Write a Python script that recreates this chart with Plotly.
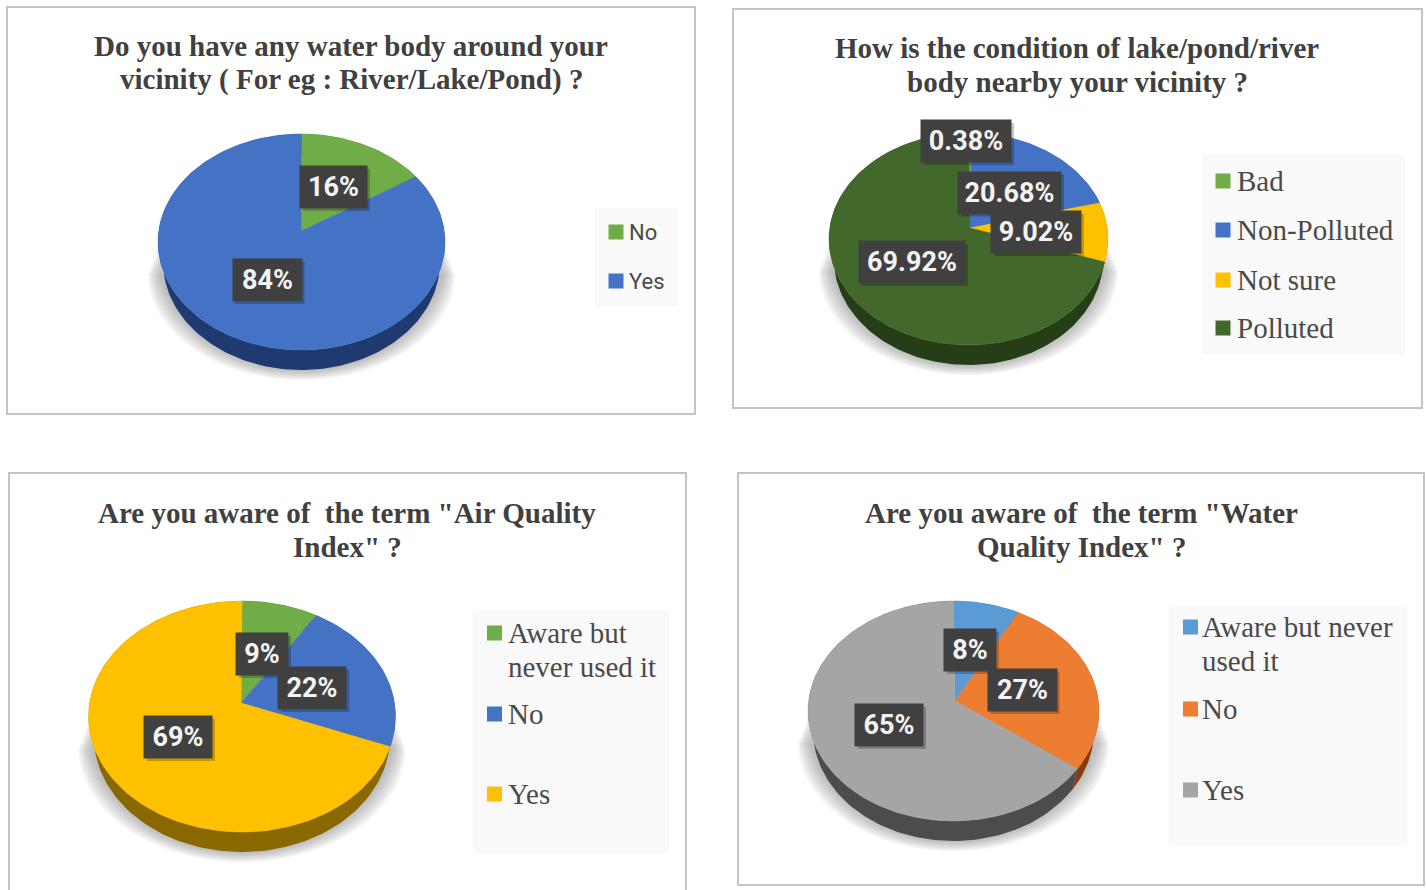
import math
import plotly.graph_objects as go

# ---- data ----
titles_1 = ["Do you have any water body around your", "vicinity ( For eg : River/Lake/Pond) ?"]
categories_1 = ["No", "Yes"]
values_1 = [16, 84]
labels_1 = ["16%", "84%"]

titles_2 = ["How is the condition of lake/pond/river", "body nearby your vicinity ?"]
categories_2 = ["Bad", "Non-Polluted", "Not sure", "Polluted"]
values_2 = [0.38, 20.68, 9.02, 69.92]
labels_2 = ["0.38%", "20.68%", "9.02%", "69.92%"]

titles_3 = ["Are you aware of \u00a0the term \"Air Quality", "Index\" ?"]
categories_3 = ["Aware but<br>never used it", "No", "Yes"]
values_3 = [9, 22, 69]
labels_3 = ["9%", "22%", "69%"]

titles_4 = ["Are you aware of \u00a0the term \"Water", "Quality Index\" ?"]
categories_4 = ["Aware but never<br>used it", "No", "Yes"]
values_4 = [8, 27, 65]
labels_4 = ["8%", "27%", "65%"]

# ---- styling and layout of each panel ----
GREEN, BLUE, AMBER, DGREEN = "#70ad47", "#4472c4", "#ffc000", "#43682b"
SKY, ORANGE, GREY = "#5b9bd5", "#ed7d31", "#a5a5a5"
WALL = {GREEN: "#3f6528", BLUE: "#1f3a70", AMBER: "#8a6800", DGREEN: "#263e18",
        SKY: "#335a7c", ORANGE: "#843c0c", GREY: "#4c4c4c"}

panels = [
    dict(title=titles_1, cats=categories_1, vals=values_1, labs=labels_1,
         colors=[GREEN, BLUE], frame=(7, 7, 695, 414), title_xy=(351, 46),
         left=158, right=445, top=134, apex=(301, 231), bottom=350, depth=20,
         boxes=[(333.5, 187, 67), (267, 280, 69)],
         legend=(595, 208, 678, 306), sw_x=616, tx=627, rows=[232, 281],
         lfont="Roboto", lsize=22),
    dict(title=titles_2, cats=categories_2, vals=values_2, labs=labels_2,
         colors=[GREEN, BLUE, AMBER, DGREEN], frame=(733, 9, 1422, 408), title_xy=(1077, 48),
         left=829, right=1108, top=133, apex=(970, 228), bottom=345, depth=20,
         boxes=[(966, 141, 90), (1009.5, 192.5, 103), (1036, 232, 90), (912, 262, 106)],
         legend=(1202, 155, 1405, 354), sw_x=1223, tx=1234.5, rows=[181, 230, 280, 328],
         lfont="Liberation Serif", lsize=29),
    dict(title=titles_3, cats=categories_3, vals=values_3, labs=labels_3,
         colors=[GREEN, BLUE, AMBER], frame=(9, 473, 686, 900), title_xy=(347, 513),
         left=88.5, right=395.5, top=601, apex=(241, 703), bottom=832, depth=20,
         boxes=[(262, 654, 52), (312, 688, 68), (178, 737, 68)],
         legend=(473, 610, 669, 853), sw_x=494.5, tx=505.5, rows=[633, 714, 794],
         lfont="Liberation Serif", lsize=29),
    dict(title=titles_4, cats=categories_4, vals=values_4, labs=labels_4,
         colors=[SKY, ORANGE, GREY], frame=(738, 473, 1424, 885), title_xy=(1081, 513),
         left=808, right=1099, top=601, apex=(955, 701), bottom=821, depth=20,
         boxes=[(970, 650, 52), (1022, 690, 69), (889, 725, 68)],
         legend=(1169, 605, 1407, 846), sw_x=1190.5, tx=1200, rows=[627, 709, 790],
         lfont="Liberation Serif", lsize=29),
]


def projector(p):
    """Map a point of the unit pie disc onto the tilted, perspective pie face."""
    ax, ay = p["apex"]
    up, down = ay - p["top"], p["bottom"] - ay
    k = (up - down) / (up + down)
    a = up * (1 - k)
    b = (p["right"] - p["left"]) / 2 * math.sqrt(1 - k * k)
    cx = (p["left"] + p["right"]) / 2

    def proj(u, v):
        d = 1 + k * v
        return cx + b * u / d, ay + a * v / d
    return proj, cx


def arc(start, stop):
    n = max(2, int(abs(stop - start) / 1.5) + 2)
    return [start + (stop - start) * i / (n - 1) for i in range(n)]


fig = go.Figure()
shapes, annotations = [], []

for p in panels:
    x0, y0, x1, y1 = p["frame"]
    shapes.append(dict(type="rect", x0=x0, y0=y0, x1=x1, y1=y1, layer="below",
                       line=dict(color="#c4c4c4", width=2), fillcolor="#ffffff"))
    lx0, ly0, lx1, ly1 = p["legend"]
    shapes.append(dict(type="rect", x0=lx0, y0=ly0, x1=lx1, y1=ly1, layer="below",
                       line=dict(width=0), fillcolor="#f9f9f9"))

    proj, cx = projector(p)
    hw = (p["right"] - p["left"]) / 2
    mid = (p["top"] + p["bottom"]) / 2
    hh = (p["bottom"] - p["top"]) / 2

    # soft ground shadow: wider layers are fainter and start lower
    for e in (10, 8.5, 7, 5.5, 4, 2.5, 1):
        start = mid + 6 + e * 2.5
        pts = [(cx + (hw + e) * math.sin(math.radians(t)),
                start - (hh + p["depth"] + mid - start + e) * math.cos(math.radians(t)))
               for t in arc(90, 270)]
        path = "M" + " L".join(f"{a:.1f},{b:.1f}" for a, b in pts) + " Z"
        shapes.append(dict(type="path", path=path, layer="below", line=dict(width=0),
                           fillcolor="rgba(100,100,100,0.07)"))

    total = sum(p["vals"])
    angles, acc = [], 0.0
    for v in p["vals"]:
        angles.append((acc / total * 360, (acc + v) / total * 360))
        acc += v

    # outer wall of each slice, then the top faces over them
    for name, val, col, (s, t) in zip(p["cats"], p["vals"], p["colors"], angles):
        tops = [proj(math.sin(math.radians(a)), -math.cos(math.radians(a))) for a in arc(s, t)]
        lows = [(cx + (x - cx) * 0.965, y + p["depth"]) for x, y in tops]
        ring = tops + lows[::-1] + [tops[0]]
        fig.add_trace(go.Scatter(x=[q[0] for q in ring], y=[q[1] for q in ring], mode="lines",
                                 fill="toself", fillcolor=WALL[col], line=dict(width=0),
                                 hoverinfo="skip", showlegend=False))
    for name, val, col, (s, t) in zip(p["cats"], p["vals"], p["colors"], angles):
        tops = [proj(math.sin(math.radians(a)), -math.cos(math.radians(a))) for a in arc(s, t)]
        ring = [p["apex"]] + tops + [p["apex"]]
        fig.add_trace(go.Scatter(x=[q[0] for q in ring], y=[q[1] for q in ring], mode="lines",
                                 fill="toself", fillcolor=col, line=dict(width=0.5, color=col),
                                 name=name.replace("<br>", " "), hoveron="fills",
                                 text=f"{name.replace('<br>', ' ')}: {val}%", hoverinfo="text",
                                 showlegend=False))

    # legend swatches and names
    fig.add_trace(go.Scatter(x=[p["sw_x"]] * len(p["rows"]), y=p["rows"], mode="markers",
                             marker=dict(symbol="square", size=15, color=p["colors"]),
                             hoverinfo="skip", showlegend=False))
    for name, row in zip(p["cats"], p["rows"]):
        for i, line in enumerate(name.split("<br>")):
            annotations.append(dict(x=p["tx"], y=row + i * 33.5, text=line, showarrow=False,
                                    xanchor="left", yanchor="middle", align="left",
                                    font=dict(family=p["lfont"], size=p["lsize"], color="#4a4a4a")))

    # title, one annotation per line
    for i, line in enumerate(p["title"]):
        annotations.append(dict(x=p["title_xy"][0], y=p["title_xy"][1] + i * 33.5,
                                text="<b>" + line + "</b>", showarrow=False,
                                xanchor="center", yanchor="middle", align="center",
                                font=dict(family="Liberation Serif", size=29, color="#404040")))

    # data labels
    for lab, (bx, by, bw) in zip(p["labs"], p["boxes"]):
        shapes.append(dict(type="rect", x0=bx - bw / 2 + 3, x1=bx + bw / 2 + 3, y0=by - 18, y1=by + 24,
                           layer="above", line=dict(width=0), fillcolor="rgba(0,0,0,0.22)"))
        annotations.append(dict(x=bx, y=by, text="<b>" + lab + "</b>", showarrow=False,
                                xanchor="center", yanchor="middle", width=bw, height=42,
                                bgcolor="#404040", borderpad=0, valign="middle",
                                font=dict(family="Roboto", size=27, color="#f4f4f4")))

fig.update_layout(
    width=1426, height=890, margin=dict(l=0, r=0, t=0, b=0),
    paper_bgcolor="#ffffff", plot_bgcolor="#ffffff", showlegend=False,
    xaxis=dict(range=[0, 1426], visible=False, fixedrange=True),
    yaxis=dict(range=[890, 0], visible=False, fixedrange=True),
    shapes=shapes, annotations=annotations,
)

fig.write_html("out.html", config=dict(displayModeBar=False),
               post_script="document.body.style.margin='0';document.documentElement.style.overflow='hidden';")
